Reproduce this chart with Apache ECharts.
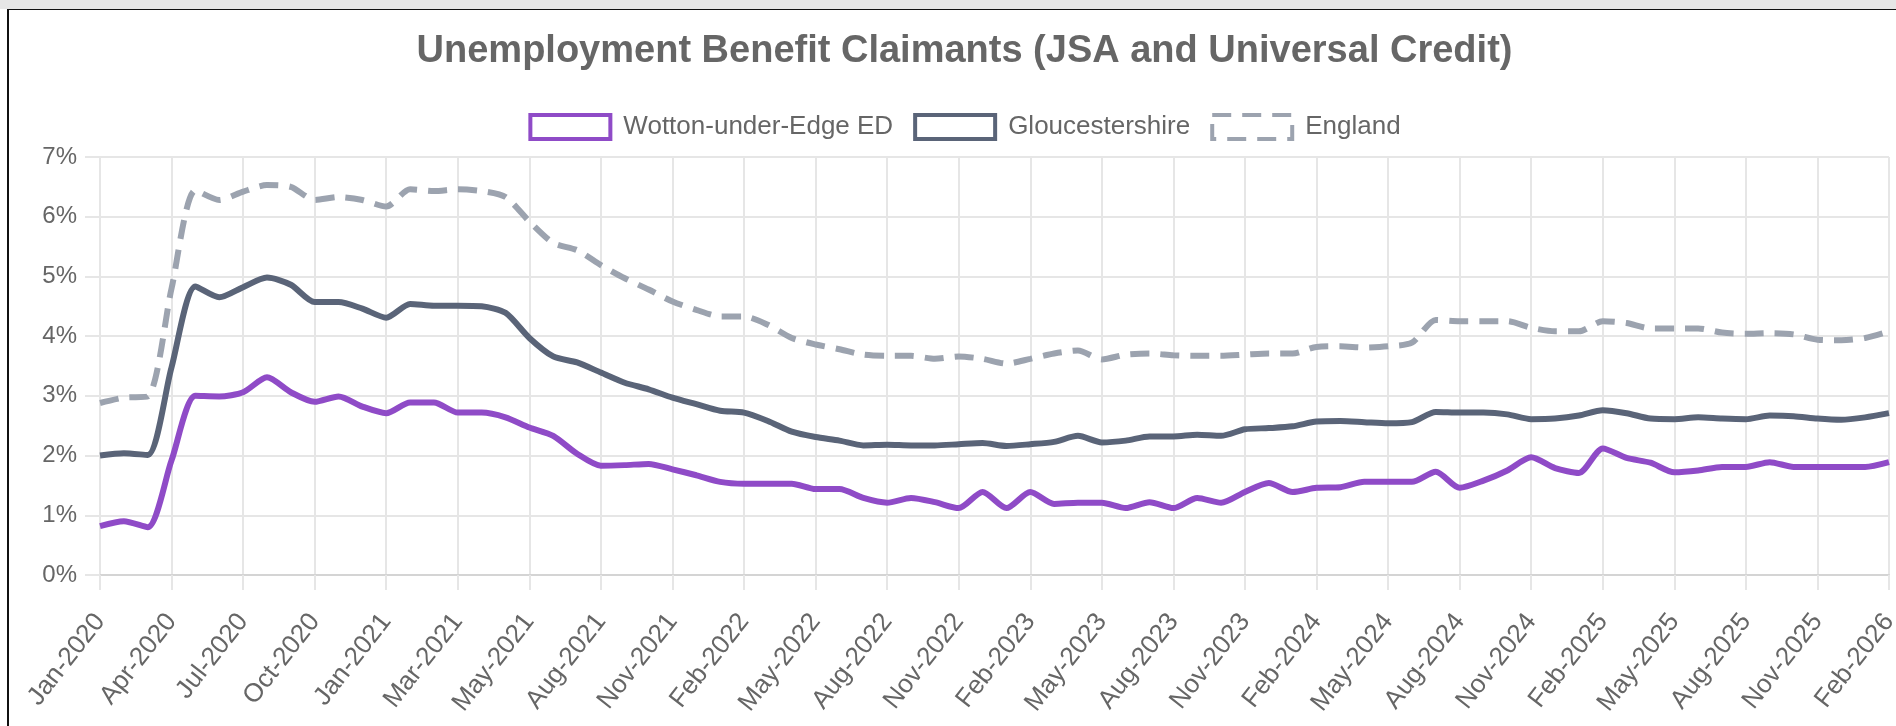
<!DOCTYPE html>
<html>
<head>
<meta charset="utf-8">
<script src="https://cdn.jsdelivr.net/npm/echarts@6/dist/echarts.min.js"></script>
<style>
html, body { margin: 0; padding: 0; width: 1896px; height: 726px; overflow: hidden; background: #fff; }
#topbar { position: absolute; left: 0; top: 0; width: 1896px; height: 9px; background: #e6e6e6; }
#card { position: absolute; left: 7px; top: 9px; width: 2000px; height: 800px; border-top: 1px solid #111; border-left: 2px solid #111; }
#chart { position: absolute; left: 0; top: 0; width: 1911px; height: 716px; }
</style>
</head>
<body>
<div id="topbar"></div>
<div id="card"><div id="chart"></div></div>
<script>
// months (the source has two extra points in early 2021)
var months = [
    'Jan-2020','Feb-2020','Mar-2020','Apr-2020','May-2020','Jun-2020','Jul-2020','Aug-2020','Sep-2020','Oct-2020','Nov-2020','Dec-2020',
    'Jan-2021','Feb-2021','Feb-2021','Mar-2021','Apr-2021','Apr-2021','May-2021','Jun-2021','Jul-2021','Aug-2021','Sep-2021','Oct-2021','Nov-2021','Dec-2021',
    'Jan-2022','Feb-2022','Mar-2022','Apr-2022','May-2022','Jun-2022','Jul-2022','Aug-2022','Sep-2022','Oct-2022','Nov-2022','Dec-2022',
    'Jan-2023','Feb-2023','Mar-2023','Apr-2023','May-2023','Jun-2023','Jul-2023','Aug-2023','Sep-2023','Oct-2023','Nov-2023','Dec-2023',
    'Jan-2024','Feb-2024','Mar-2024','Apr-2024','May-2024','Jun-2024','Jul-2024','Aug-2024','Sep-2024','Oct-2024','Nov-2024','Dec-2024',
    'Jan-2025','Feb-2025','Mar-2025','Apr-2025','May-2025','Jun-2025','Jul-2025','Aug-2025','Sep-2025','Oct-2025','Nov-2025','Dec-2025',
    'Jan-2026','Feb-2026'
];

var wotton = [0.82,0.90,0.80,1.92,3.00,2.99,3.06,3.31,3.06,2.90,2.99,2.82,2.71,2.89,2.89,2.72,2.72,2.64,2.47,2.33,
    2.03,1.83,1.84,1.86,1.77,1.67,1.56,1.53,1.53,1.53,1.44,1.44,1.29,1.21,1.29,1.22,1.12,1.39,1.12,1.39,
    1.19,1.21,1.21,1.12,1.22,1.12,1.29,1.21,1.39,1.54,1.39,1.46,1.47,1.56,1.56,1.56,1.73,1.46,1.58,1.75,
    1.97,1.79,1.71,2.12,1.96,1.88,1.72,1.75,1.81,1.81,1.89,1.81,1.81,1.81,1.81,1.89];

var glos = [2.00,2.04,2.01,3.48,4.83,4.65,4.82,4.98,4.86,4.57,4.57,4.46,4.31,4.54,4.51,4.51,4.50,4.39,3.97,3.66,
    3.56,3.39,3.22,3.11,2.97,2.86,2.75,2.72,2.58,2.40,2.31,2.25,2.17,2.18,2.17,2.17,2.19,2.21,2.16,2.19,
    2.23,2.33,2.22,2.25,2.32,2.32,2.35,2.33,2.44,2.46,2.49,2.57,2.58,2.56,2.54,2.56,2.73,2.72,2.72,2.69,
    2.61,2.62,2.67,2.76,2.71,2.62,2.61,2.64,2.62,2.61,2.67,2.66,2.62,2.60,2.64,2.71];

var england = [2.88,2.97,2.99,4.80,6.44,6.28,6.42,6.53,6.50,6.28,6.33,6.28,6.17,6.46,6.43,6.46,6.43,6.33,5.92,5.56,
    5.44,5.19,4.97,4.78,4.58,4.44,4.33,4.33,4.19,3.97,3.86,3.78,3.69,3.67,3.67,3.62,3.66,3.62,3.54,3.62,
    3.71,3.76,3.61,3.69,3.71,3.68,3.67,3.67,3.69,3.71,3.71,3.82,3.83,3.81,3.83,3.89,4.27,4.25,4.25,4.25,
    4.14,4.08,4.08,4.25,4.22,4.13,4.13,4.13,4.06,4.04,4.05,4.03,3.94,3.93,3.97,4.08];

var yTicks = [0, 7, 1]; // min, max, step

var purple = '#8f4bc7';
var slate = '#5a6478';
var grey = '#9ca3af';
var font = '"Liberation Sans", Arial, Helvetica, sans-serif';
var gridCol = '#e6e6e6';
var dash = [19, 11];

var myChart = echarts.init(document.getElementById('chart'));

var option = {
    animation: false,
    title: {
        text: 'Unemployment Benefit Claimants (JSA and Universal Credit)',
        left: 'center',
        top: 23,
        padding: 0,
        textStyle: { fontFamily: font, fontSize: 38, fontWeight: 'bold', color: '#666' }
    },
    legend: {
        top: 103,
        left: 'center',
        padding: 0,
        itemWidth: 80,
        itemHeight: 24,
        itemGap: 20,
        textStyle: { fontFamily: font, fontSize: 26, color: '#666', padding: [0, 0, 0, 8] },
        data: [
            { name: 'Wotton-under-Edge ED', icon: 'rect', itemStyle: { color: 'rgba(0,0,0,0)', borderColor: purple, borderWidth: 4 } },
            { name: 'Gloucestershire', icon: 'rect', itemStyle: { color: 'rgba(0,0,0,0)', borderColor: slate, borderWidth: 4 } },
            { name: 'England', icon: 'rect', itemStyle: { color: 'rgba(0,0,0,0)', borderColor: grey, borderWidth: 4, borderType: dash } }
        ]
    },
    grid: { left: 91, right: 31, top: 147, bottom: 151 },
    xAxis: {
        type: 'category',
        boundaryGap: false,
        data: months,
        axisLine: { lineStyle: { color: '#d4d4d4', width: 2 } },
        axisTick: { show: true, interval: 2, length: 15, lineStyle: { color: gridCol, width: 2 } },
        axisLabel: { interval: 2, rotate: 52, margin: 42, fontFamily: font, fontSize: 26, color: '#666' },
        splitLine: { show: true, interval: 2, lineStyle: { color: gridCol, width: 2 } }
    },
    yAxis: {
        type: 'value',
        min: yTicks[0],
        max: yTicks[1],
        interval: yTicks[2],
        axisLine: { show: true, lineStyle: { color: gridCol, width: 2 } },
        axisTick: { show: true, length: 15, lineStyle: { color: gridCol, width: 2 } },
        axisLabel: { formatter: '{value}%', margin: 23, fontFamily: font, fontSize: 24, color: '#666' },
        splitLine: { lineStyle: { color: gridCol, width: 2 } }
    },
    series: [
        {
            name: 'Wotton-under-Edge ED',
            type: 'line',
            data: wotton,
            smooth: 0.25,
            showSymbol: false,
            lineStyle: { color: purple, width: 6 },
            itemStyle: { color: purple }
        },
        {
            name: 'Gloucestershire',
            type: 'line',
            data: glos,
            smooth: 0.25,
            showSymbol: false,
            lineStyle: { color: slate, width: 6 },
            itemStyle: { color: slate }
        },
        {
            name: 'England',
            type: 'line',
            data: england,
            smooth: 0.25,
            showSymbol: false,
            lineStyle: { color: grey, width: 6, type: dash },
            itemStyle: { color: grey }
        }
    ]
};

myChart.setOption(option);
</script>
</body>
</html>
